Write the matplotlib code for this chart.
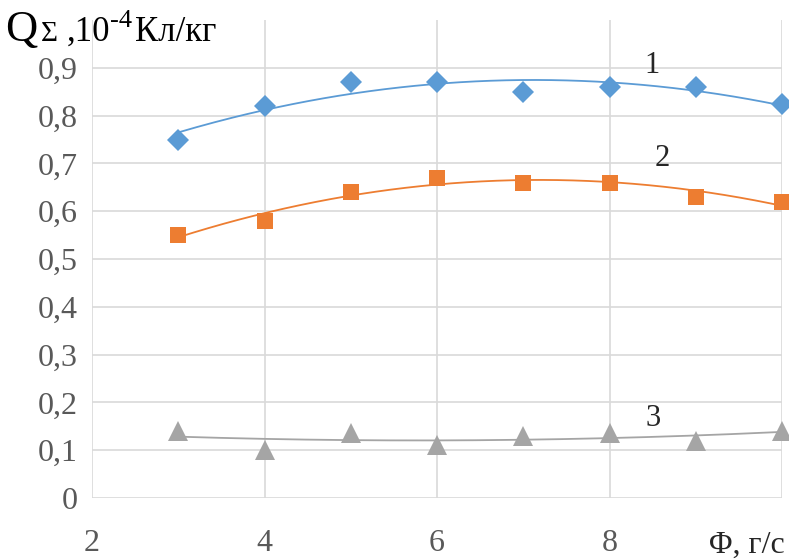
import matplotlib.pyplot as plt
import numpy as np

plt.rcParams['font.family'] = ['Liberation Serif', 'DejaVu Serif']

flow = [3, 4, 5, 6, 7, 8, 9, 10]
charge_1 = [0.75, 0.82, 0.87, 0.87, 0.85, 0.86, 0.86, 0.825]
charge_2 = [0.55, 0.58, 0.64, 0.67, 0.66, 0.66, 0.63, 0.62]
charge_3 = [0.14, 0.10, 0.135, 0.11, 0.13, 0.135, 0.12, 0.14]

series = [
    (charge_1, '#5B9BD5', 'D', 11, '1', (8.4, 0.905)),
    (charge_2, '#ED7D31', 's', 12, '2', (8.52, 0.71)),
    (charge_3, '#A5A5A5', '^', 14, '3', (8.42, 0.167)),
]

W, H = 789, 560
fig = plt.figure(figsize=(W / 100, H / 100), dpi=100)
ax = fig.add_axes([92 / W, 62 / H, 690 / W, 478 / H])

xs = np.linspace(3, 10, 200)
for values, color, marker, size, tag, pos in series:
    # polynomial trendline, as in the spreadsheet chart
    coef = np.polyfit(flow, values, 2)
    ax.plot(xs, np.polyval(coef, xs), color=color, lw=1.3, zorder=2)
    ax.plot(flow, values, linestyle='none', marker=marker, ms=size,
            color=color, markeredgewidth=0, zorder=3, clip_on=False)
    ax.text(pos[0], pos[1], tag, fontsize=22, ha='left', va='center',
            color='#262626')

ax.set_xlim(2, 10)
ax.set_ylim(0, 1.0)
ax.set_xticks([2, 4, 6, 8, 10])
ax.set_xticklabels(['2', '4', '6', '8', ''])
ax.set_yticks(np.arange(0, 0.95, 0.1))
ax.set_yticklabels(['0', '0,1', '0,2', '0,3', '0,4', '0,5', '0,6', '0,7', '0,8', '0,9'])
ax.grid(True, color='#d9d9d9', lw=1.2)
ax.set_axisbelow(True)
for s in ax.spines.values():
    s.set_visible(False)
ax.tick_params(length=0, labelsize=23, labelcolor='#595959', pad=10)
ax.tick_params(axis='x', pad=22)

fig.text(785 / W, 7 / H, 'Φ, г/с', fontsize=23, ha='right', va='baseline', color='#262626')

# axis title, built from pieces laid one after another
renderer = fig.canvas.get_renderer()
pieces = [('Q', 32, 41, 4), ('Σ', 21, 41, 8), (',10', 25, 41, 0),
          ('-4', 19, 27, 3), ('Кл/кг', 25, 41, 0)]
x_px = 5
for text, size, base_px, gap in pieces:
    t = fig.text(x_px / W, 1 - base_px / H, text, fontsize=size,
                 ha='left', va='baseline', color='black')
    x_px = t.get_window_extent(renderer).x1 + gap

fig.savefig('out.png', dpi=100)
